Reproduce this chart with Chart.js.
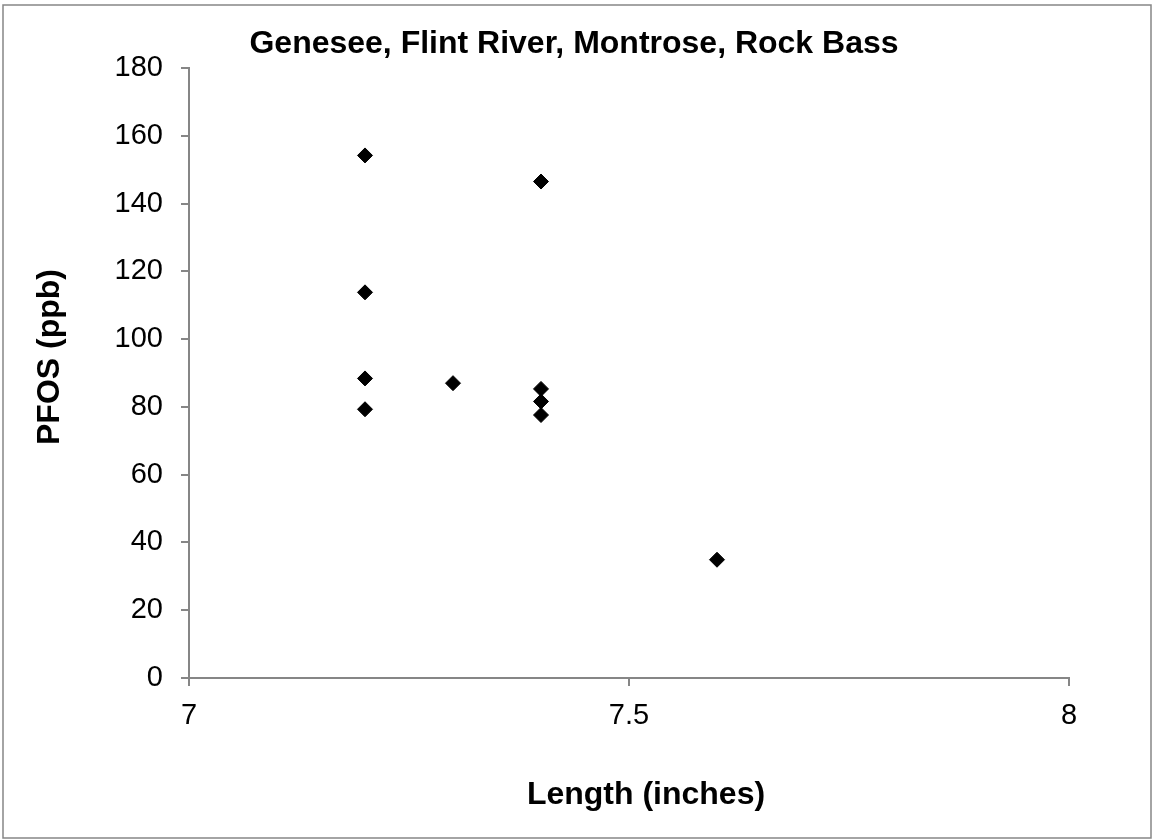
<!DOCTYPE html>
<html>
<head>
<meta charset="utf-8">
<title>Genesee, Flint River, Montrose, Rock Bass</title>
<script src="https://cdn.jsdelivr.net/npm/chart.js@4/dist/chart.umd.min.js"></script>
<style>
  html, body { margin: 0; padding: 0; background: #fff; }
  canvas { display: block; }
</style>
</head>
<body>
<canvas id="chart" width="1154" height="840"></canvas>
<script>
// values
const lengthInches = [7.2, 7.2, 7.2, 7.2, 7.3, 7.4, 7.4, 7.4, 7.4, 7.6];
const pfosPpb = [154.2, 113.8, 88.4, 79.3, 87.0, 146.5, 85.3, 81.6, 77.6, 34.9];
const xTicks = [7, 7.5, 8];
const yTicks = [0, 20, 40, 60, 80, 100, 120, 140, 160, 180];

const chartTitle = "Genesee, Flint River, Montrose, Rock Bass";
const xTitle = "Length (inches)";
const yTitle = "PFOS (ppb)";

const axisGray = "#868686";
const fontFamily = '"Liberation Sans", Arial, sans-serif';

Chart.defaults.font.family = fontFamily;
Chart.defaults.color = "#000";

// white background, outer frame and the three titles
const frameAndTitles = {
  id: "frameAndTitles",
  beforeDraw(chart) {
    const ctx = chart.ctx;
    ctx.save();
    ctx.fillStyle = "#fff";
    ctx.fillRect(0, 0, chart.width, chart.height);
    ctx.strokeStyle = axisGray;
    ctx.lineWidth = 1.5;
    ctx.strokeRect(3, 5, 1148, 833);
    ctx.restore();
  },
  afterDraw(chart) {
    const ctx = chart.ctx;
    ctx.save();
    ctx.fillStyle = "#000";
    ctx.font = "bold 32px " + fontFamily;
    ctx.textAlign = "center";
    ctx.textBaseline = "middle";
    ctx.fillText(chartTitle, 574, 44);
    ctx.fillText(xTitle, 646, 795);
    ctx.translate(50, 357);
    ctx.rotate(-Math.PI / 2);
    ctx.fillText(yTitle, 0, 0);
    ctx.restore();
  },
};

const points = lengthInches.map((x, i) => ({ x: x, y: pfosPpb[i] }));

new Chart(document.getElementById("chart"), {
  type: "scatter",
  data: {
    datasets: [
      {
        label: "PFOS",
        data: points,
        pointStyle: "rectRot",
        pointRadius: 7.5,
        pointHoverRadius: 7.5,
        backgroundColor: "#000",
        borderColor: "#000",
        borderWidth: 1,
      },
    ],
  },
  options: {
    responsive: false,
    animation: false,
    layout: { padding: { left: 3, top: 68, right: 85, bottom: 2 } },
    plugins: {
      legend: { display: false },
      tooltip: { enabled: false },
      title: { display: false },
    },
    scales: {
      x: {
        type: "linear",
        position: "bottom",
        min: 7,
        max: 8,
        afterBuildTicks: (scale) => {
          scale.ticks = xTicks.map((v) => ({ value: v }));
        },
        afterFit: (scale) => {
          scale.height = 160;
        },
        grid: {
          drawOnChartArea: false,
          drawTicks: true,
          tickLength: 8,
          color: axisGray,
          lineWidth: 2,
        },
        border: { color: axisGray, width: 2 },
        ticks: {
          padding: 13,
          font: { size: 29 },
          color: "#000",
          maxRotation: 0,
          callback: (v) => String(v),
        },
      },
      y: {
        type: "linear",
        min: 0,
        max: 180,
        afterBuildTicks: (scale) => {
          scale.ticks = yTicks.map((v) => ({ value: v }));
        },
        afterFit: (scale) => {
          scale.width = 186;
        },
        grid: {
          drawOnChartArea: false,
          drawTicks: true,
          tickLength: 8,
          color: axisGray,
          lineWidth: 2,
        },
        border: { color: axisGray, width: 2 },
        ticks: {
          padding: 18,
          font: { size: 29 },
          color: "#000",
          callback: (v) => String(v),
        },
      },
    },
  },
  plugins: [frameAndTitles],
});
</script>
</body>
</html>
